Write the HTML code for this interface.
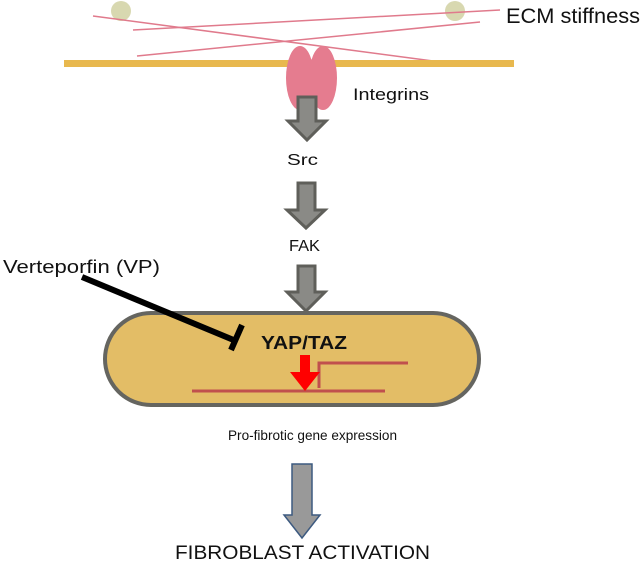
<!DOCTYPE html>
<html><head><style>
body{margin:0;background:#fff;}
svg text{font-family:"Liberation Sans",sans-serif;}
</style></head><body>
<svg width="644" height="562" viewBox="0 0 644 562" xmlns="http://www.w3.org/2000/svg">
<circle cx="121" cy="11" r="10" fill="#d8d8b0"/>
<circle cx="455" cy="11" r="10" fill="#d8d8b0"/>
<g stroke="#e07a8c" stroke-width="1.5">
<line x1="93" y1="16" x2="433" y2="61"/>
<line x1="133" y1="30" x2="500" y2="10"/>
<line x1="137" y1="56" x2="480" y2="22"/>
</g>
<rect x="64" y="60" width="450" height="7" fill="#e8b84e"/>
<ellipse cx="300" cy="78" rx="14" ry="32" fill="#e57c8f"/>
<ellipse cx="323" cy="78" rx="14" ry="32" fill="#e57c8f"/>
<text x="353" y="100" font-size="17" textLength="76" lengthAdjust="spacingAndGlyphs" fill="#111">Integrins</text>
<text x="506" y="23" font-size="21" textLength="134" lengthAdjust="spacingAndGlyphs" fill="#111">ECM stiffness</text>
<g fill="#8a8a86" stroke="#5f5f5a" stroke-width="3">
<path d="M298,97 H316 V121 H326 L307,140 L288,121 H298 Z"/>
<path d="M298,183 H315 V210 H325 L306,228 L287,210 H298 Z"/>
<path d="M298,266 H315 V292 H325 L306,311 L287,292 H298 Z"/>
</g>
<text x="287" y="165" font-size="16" textLength="31" lengthAdjust="spacingAndGlyphs" fill="#111">Src</text>
<text x="289" y="251" font-size="16" textLength="31" lengthAdjust="spacingAndGlyphs" fill="#111">FAK</text>
<rect x="105" y="313" width="374" height="92" rx="46" fill="#e3bd66" stroke="#656560" stroke-width="4"/>
<line x1="82" y1="277" x2="236" y2="341" stroke="#000" stroke-width="6"/>
<line x1="242" y1="325" x2="231" y2="350" stroke="#000" stroke-width="6"/>
<text x="3" y="273" font-size="18" textLength="157" lengthAdjust="spacingAndGlyphs" fill="#111">Verteporfin (VP)</text>
<text x="261" y="349" font-size="18" font-weight="bold" textLength="86" lengthAdjust="spacingAndGlyphs" fill="#111">YAP/TAZ</text>
<g stroke="#c0504d" stroke-width="3" fill="none">
<line x1="192" y1="391" x2="385" y2="391"/>
<polyline points="319,388 319,363 408,363"/>
</g>
<path d="M300,355 H310 V372 H320 L305,391 L290,372 H300 Z" fill="#ff0000"/>
<text x="228" y="440" font-size="14" textLength="169" lengthAdjust="spacingAndGlyphs" fill="#111">Pro-fibrotic gene expression</text>
<path d="M292,464 H312 V515 H320 L302,538 L284,515 H292 Z" fill="#999" stroke="#3d5a80" stroke-width="1.5"/>
<text x="175" y="559" font-size="19" textLength="255" lengthAdjust="spacingAndGlyphs" fill="#111">FIBROBLAST ACTIVATION</text>
</svg>
</body></html>
